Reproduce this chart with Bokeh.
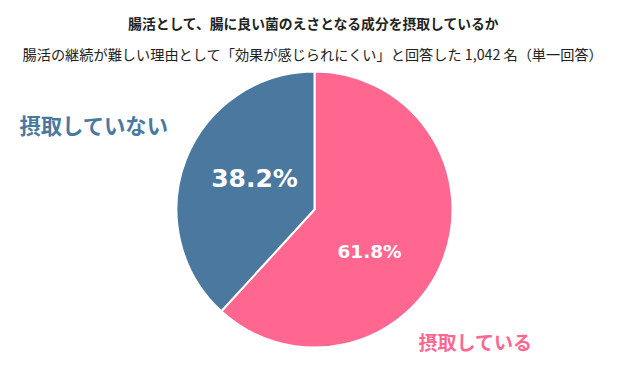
import math
from bokeh.plotting import figure
from bokeh.models import Range1d, ColumnDataSource
from bokeh.core.properties import value
from bokeh.embed import file_html
from bokeh.resources import INLINE

title = "腸活として、腸に良い菌のえさとなる成分を摂取しているか"
subtitle = "腸活の継続が難しい理由として「効果が感じられにくい」と回答した 1,042 名（単一回答）"
categories = ["摂取している", "摂取していない"]
values = [61.8, 38.2]
colors = ["#FF6690", "#4A789E"]

W, H = 625, 375
p = figure(width=W, height=H, x_range=Range1d(0, W), y_range=Range1d(0, H),
           output_backend="svg", toolbar_location=None, min_border=0)
p.axis.visible = False
p.grid.visible = False
p.outline_line_color = None
p.background_fill_color = "white"
p.border_fill_color = "white"

cx, cy, r = 314, H - 209, 138
total = sum(values)
starts, ends = [], []
a = math.pi / 2
for v in values:
    starts.append(a)
    a -= v / total * 2 * math.pi
    ends.append(a)
src = ColumnDataSource(dict(start=starts, end=ends, color=colors))
p.wedge(x=cx, y=cy, radius=r, start_angle="start", end_angle="end",
        direction="clock", fill_color="color", line_color="white", line_width=2,
        source=src)

font = value("Noto Sans CJK JP")
p.text(x=[W / 2 + 1], y=[H - 22], text=[title], text_font=font, text_font_size="13.8px",
       text_font_style="bold", text_color="#222222", text_align="center",
       text_baseline="middle")
p.text(x=[W / 2], y=[H - 53], text=[subtitle], text_font=font, text_font_size="14.2px",
       text_color="#222222", text_align="center", text_baseline="middle")

# category labels
p.text(x=[19], y=[H - 124], text=[categories[1]], text_font=font, text_font_size="21.3px",
       text_font_style="bold", text_color=colors[1], text_align="left",
       text_baseline="middle")
p.text(x=[418], y=[H - 341], text=[categories[0]], text_font=font, text_font_size="19px",
       text_font_style="bold", text_color=colors[0], text_align="left",
       text_baseline="middle")

# percentages
p.text(x=[254], y=[H - 178], text=[f"{values[1]:.1f}%"], text_font=value("DejaVu Sans"),
       text_font_size="25px", text_font_style="bold", text_color="white",
       text_align="center", text_baseline="middle")
p.text(x=[369], y=[H - 251], text=[f"{values[0]:.1f}%"], text_font=value("DejaVu Sans"),
       text_font_size="18.5px", text_font_style="bold", text_color="white",
       text_align="center", text_baseline="middle")

open("out.html", "w").write(file_html(p, INLINE))
